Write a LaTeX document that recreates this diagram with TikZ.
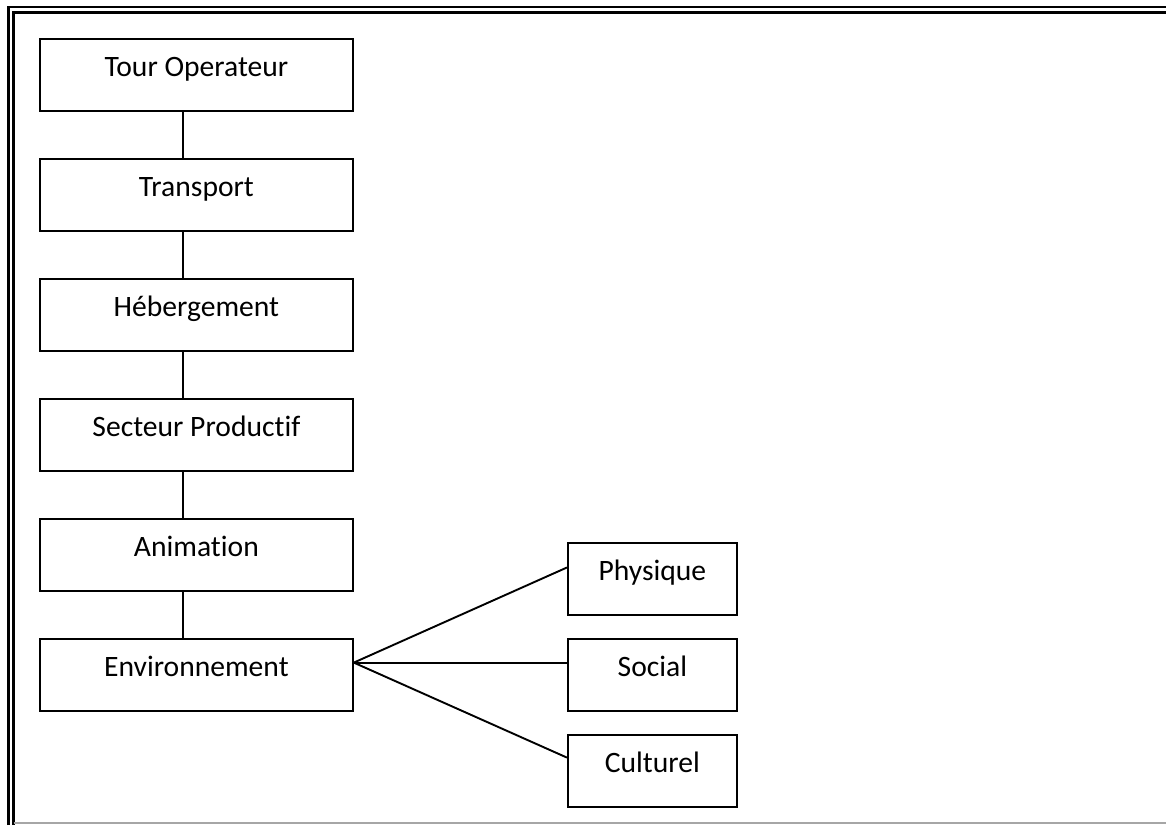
\documentclass[tikz,border=0pt]{standalone}
\usepackage{fontspec}
\setmainfont{Carlito}[Ligatures=NoCommon]
\usetikzlibrary{calc}
\begin{document}
\begin{tikzpicture}[x=1pt,y=-1pt,
  boxstyle/.style={draw=black, line width=1.8pt, rectangle, inner sep=0pt, anchor=north west,
    text height=38pt, text depth=34pt, font=\fontsize{29.6}{34}\selectfont},
  mainbox/.style={boxstyle, minimum width=313pt},
  subbox/.style={boxstyle, minimum width=169pt},
  link/.style={line width=1.9pt},
  frameline/.style={line width=2.4pt}]
\useasboundingbox (0,0) rectangle (1166,825);
% page frame
\draw[frameline] (8.5,825) -- (8.5,7) -- (1166,7);
\draw[frameline] (13.5,825) -- (13.5,12.5) -- (1166,12.5);
\draw[black!35, line width=1.5pt] (13.5,823) -- (1166,823);
% main column
\node[mainbox] (tour)  at (39,38)  {Tour Operateur};
\node[mainbox] (trans) at (39,158) {Transport};
\node[mainbox] (heb)   at (39,278) {Hébergement};
\node[mainbox] (sect)  at (39,398) {Secteur Productif};
\node[mainbox] (anim)  at (39,518) {Animation};
\node[mainbox] (env)   at (39,638) {Environnement};
% sub boxes
\node[subbox] (phys) at (567,542) {Physique};
\node[subbox] (soc)  at (567,638) {Social};
\node[subbox] (cult) at (567,734) {Culturel};
% vertical links
\coordinate (vx) at (183,0);
\draw[link] (tour.south -| vx) -- (trans.north -| vx);
\draw[link] (trans.south -| vx) -- (heb.north -| vx);
\draw[link] (heb.south -| vx) -- (sect.north -| vx);
\draw[link] (sect.south -| vx) -- (anim.north -| vx);
\draw[link] (anim.south -| vx) -- (env.north -| vx);
% fan links
\coordinate (ej) at ($(env.north east)!1/3!(env.south east)$);
\draw[link] (ej) -- ($(phys.north west)!0.345!(phys.south west)$);
\draw[link] (ej) -- ($(soc.north west)!1/3!(soc.south west)$);
\draw[link] (ej) -- ($(cult.north west)!0.32!(cult.south west)$);
\end{tikzpicture}
\end{document}
